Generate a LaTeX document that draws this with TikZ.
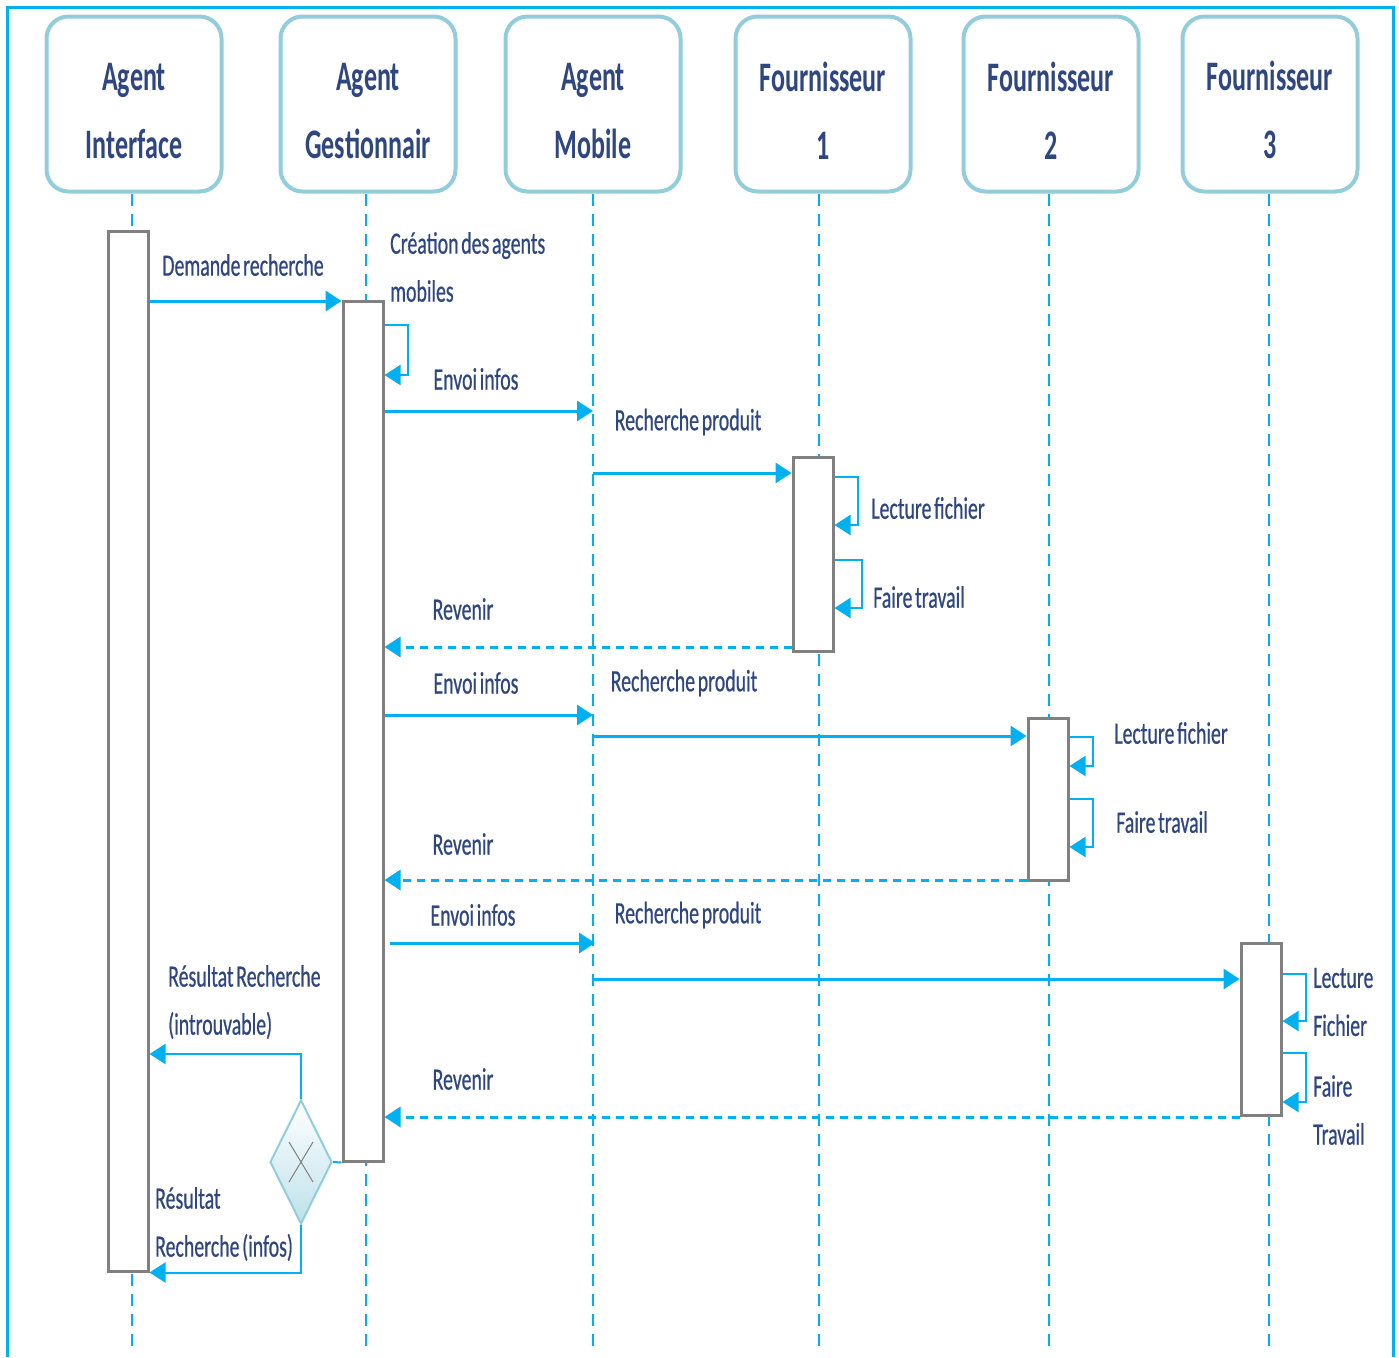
\documentclass[tikz,border=0pt]{standalone}
\usepackage{fontspec}
\setmainfont[FakeStretch=0.63]{Carlito}
\newfontfamily\headfont[FakeStretch=0.62]{Carlito}
\newfontfamily\labelfont[FakeStretch=0.64,FakeBold=0.6,WordSpace=0.6]{Carlito}
\usetikzlibrary{positioning,arrows.meta,shapes.geometric}
\definecolor{seqline}{RGB}{0,176,240}
\definecolor{seqtext}{RGB}{47,70,128}
\definecolor{headborder}{RGB}{146,205,220}
\definecolor{bargray}{RGB}{128,128,128}
\tikzset{%
actor/.style={draw=headborder,line width=4pt,rounded corners=22pt,minimum width=175pt,minimum height=175pt,align=center,text=seqtext,font=\headfont\bfseries\fontsize{42}{68}\selectfont,execute at begin node=\rule{0pt}{110pt}},
lifeline/.style={draw=seqline,line width=2pt,dash pattern=on 12pt off 8pt},
activation/.style={draw=bargray,fill=white,line width=3pt,minimum width=40pt,inner sep=0},
msg/.style={draw=seqline,line width=3pt,-{Triangle[length=16pt,width=20pt]}},
reply/.style={msg,dash pattern=on 8pt off 6pt},
selfloop/.style={draw=seqline,line width=2pt,-{Triangle[length=16pt,width=20pt]}},
msglabel/.style={text=seqtext,font=\labelfont\fontsize{31}{48}\selectfont,inner sep=0},
gateway/.style={diamond,draw=headborder,line width=2pt,top color=white,bottom color=headborder!60,minimum width=62pt,minimum height=124pt,inner sep=0}
}

\begin{document}
\begin{tikzpicture}[x=1pt,y=-1pt]

    \useasboundingbox (0,0) rectangle (1399,1357);
    \draw[seqline,line width=3pt] (7,1357) -- (7,7) -- (1393,7) -- (1393,1357);

    \node[actor] (ai) at (134,104) {Agent\\Interface};
    \node[actor] (ag) at (368,104) {Agent\\Gestionnair};
    \node[actor] (am) at (593,104) {Agent\\Mobile};
    \node[actor] (f1) at (823,104) {Fournisseur\\1};
    \node[actor] (f2) at (1051,104) {Fournisseur\\2};
    \node[actor] (f3) at (1270,104) {Fournisseur\\3};

    \coordinate (bottom) at (0,1352);
    \draw[lifeline] ([xshift=-2pt]ai.south) -- ([xshift=-2pt]ai.south |- bottom);
    \draw[lifeline] ([xshift=-2pt]ag.south) -- ([xshift=-2pt]ag.south |- bottom);
    \draw[lifeline] (am.south) -- (am.south |- bottom);
    \draw[lifeline] ([xshift=-4pt]f1.south) -- ([xshift=-4pt]f1.south |- bottom);
    \draw[lifeline] ([xshift=-2pt]f2.south) -- ([xshift=-2pt]f2.south |- bottom);
    \draw[lifeline] ([xshift=-1pt]f3.south) -- ([xshift=-1pt]f3.south |- bottom);

    \node[activation,minimum height=1040pt] (barAI) at (128,751) {};
    \node[activation,minimum height=860pt] (barAG) at (363,731) {};
    \node[activation,minimum height=194pt] (barF1) at (813,554) {};
    \node[activation,minimum height=162pt] (barF2) at (1048,799) {};
    \node[activation,minimum height=172pt] (barF3) at (1261,1029) {};

    \draw[msg] (barAI.east |- 0,301) -- (barAG.west |- 0,301);
    \node[msglabel] (lDemande) at (243,265) {Demande recherche};

    \draw[selfloop] (barAG.east |- 0,325) -- ++(23,0) -- ++(0,50) -- (barAG.east |- 0,375);
    \node[msglabel,anchor=west,align=left] (lCreation) at (390,267) {Création des agents\\mobiles};

    \draw[msg] (barAG.east |- 0,411) -- (am.south |- 0,411);
    \node[msglabel] (lEnvoiA) at (476,379) {Envoi infos};
    \draw[msg] (am.south |- 0,473) -- (barF1.west |- 0,473);
    \node[msglabel] (lRechA) at (688,422) {Recherche produit};

    \draw[selfloop] (barF1.east |- 0,477) -- ++(23,0) -- ++(0,48) -- (barF1.east |- 0,525);
    \node[msglabel] (lLectA) at (928,508) {Lecture fichier};
    \draw[selfloop] (barF1.east |- 0,560) -- ++(27,0) -- ++(0,48) -- (barF1.east |- 0,608);
    \node[msglabel] (lFaireA) at (919,597) {Faire travail};

    \draw[reply] (barF1.west |- 0,647) -- (barAG.east |- 0,647);
    \node[msglabel] (lRevA) at (463,609) {Revenir};

    \draw[msg] (barAG.east |- 0,715) -- (am.south |- 0,715);
    \node[msglabel] (lEnvoiB) at (476,683) {Envoi infos};
    \draw[msg] (am.south |- 0,736) -- (barF2.west |- 0,736);
    \node[msglabel] (lRechB) at (684,683) {Recherche produit};

    \draw[selfloop] (barF2.east |- 0,737) -- ++(23,0) -- ++(0,29) -- (barF2.east |- 0,766);
    \node[msglabel] (lLectB) at (1171,733) {Lecture fichier};
    \draw[selfloop] (barF2.east |- 0,799) -- ++(23,0) -- ++(0,48) -- (barF2.east |- 0,847);
    \node[msglabel] (lFaireB) at (1162,822) {Faire travail};

    \draw[reply] (barF2.west |- 0,880) -- (barAG.east |- 0,880);
    \node[msglabel] (lRevB) at (463,844) {Revenir};

    \draw[msg] ([xshift=5pt]barAG.east |- 0,943) -- ([xshift=2pt]am.south |- 0,943);
    \node[msglabel] (lEnvoiC) at (473,915) {Envoi infos};
    \draw[msg] (am.south |- 0,979) -- (barF3.west |- 0,979);
    \node[msglabel] (lRechC) at (688,915) {Recherche produit};

    \draw[selfloop] (barF3.east |- 0,974) -- ++(23,0) -- ++(0,47) -- (barF3.east |- 0,1021);
    \node[msglabel,anchor=west,align=left] (lLectC) at (1313,1002) {Lecture\\Fichier};
    \draw[selfloop] (barF3.east |- 0,1053) -- ++(23,0) -- ++(0,49) -- (barF3.east |- 0,1102);
    \node[msglabel,anchor=west,align=left] (lFaireC) at (1313,1110) {Faire\\Travail};

    \draw[reply] (barF3.west |- 0,1117) -- (barAG.east |- 0,1117);
    \node[msglabel] (lRevC) at (463,1079) {Revenir};

    \node[gateway] (gw) at (301,1162) {};
    \draw[gray,line width=1pt] ([shift={(-12,-20)}]gw.center) -- ([shift={(12,20)}]gw.center);
    \draw[gray,line width=1pt] ([shift={(12,-20)}]gw.center) -- ([shift={(-12,20)}]gw.center);
    \draw[seqline,line width=2pt] (gw.east) -- (barAG.south west);
    \draw[selfloop] (gw.north) |- (barAI.east |- 0,1054);
    \node[msglabel,anchor=west,align=left] (lIntrouvable) at (168,1002) {Résultat Recherche\\(introuvable)};
    \draw[selfloop] (gw.south) |- (barAI.south east);
    \node[msglabel,anchor=west,align=left] (lInfos) at (155,1224) {Résultat\\Recherche (infos)};

\end{tikzpicture}
\end{document}
